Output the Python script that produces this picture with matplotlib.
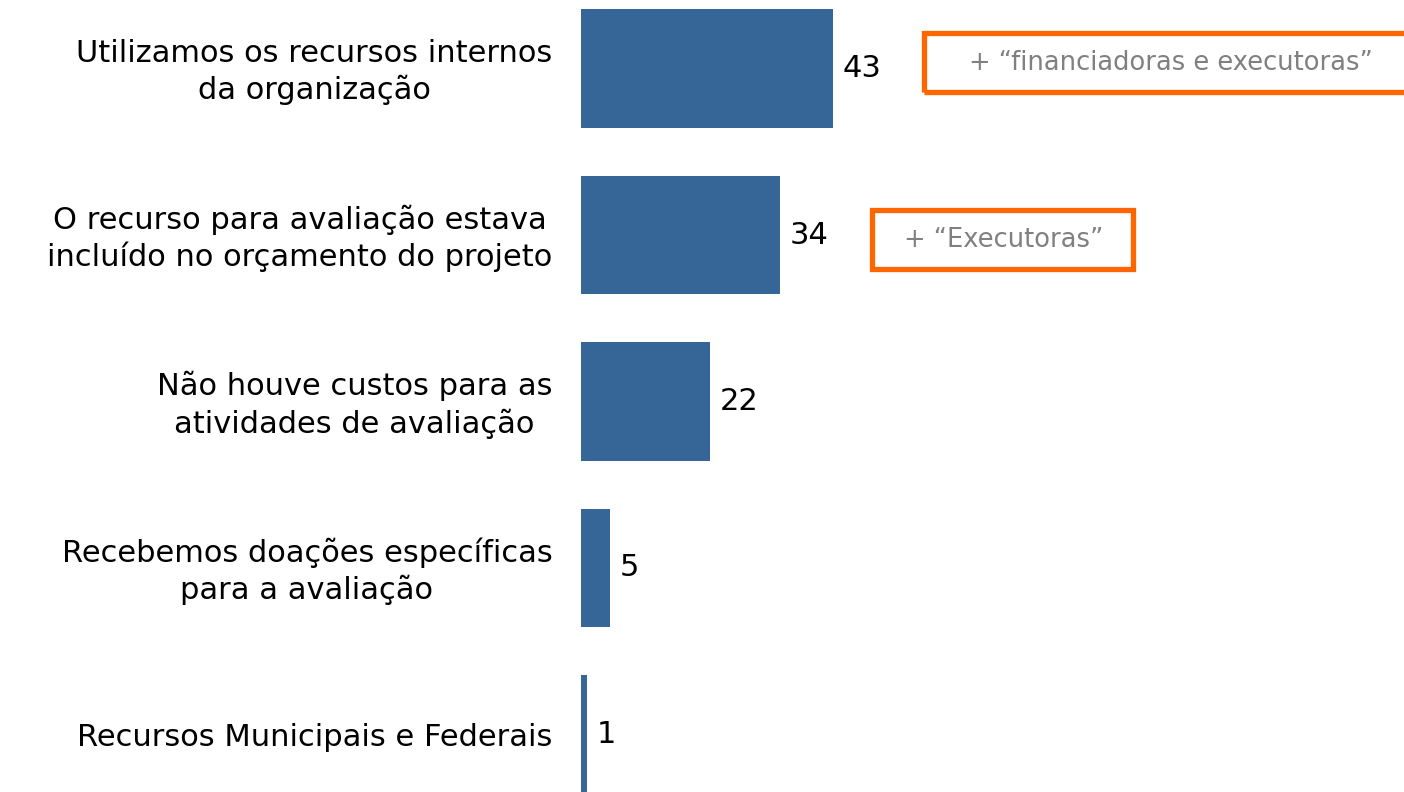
import matplotlib
matplotlib.use("Agg")
import matplotlib.pyplot as plt
from matplotlib.patches import Rectangle

# dados
categorias = ["Utilizamos os recursos internos\nda organização",
              "O recurso para avaliação estava\nincluído no orçamento do projeto",
              "Não houve custos para as\natividades de avaliação",
              "Recebemos doações específicas\npara a avaliação",
              "Recursos Municipais e Federais"]
valores = [43, 34, 22, 5, 1]
notas = ["+ \u201cfinanciadoras e executoras\u201d", "+ \u201cExecutoras\u201d"]

W, H = 1404, 792
fig = plt.figure(figsize=(W / 100, H / 100), dpi=100)
fig.patch.set_facecolor("white")

# axes: barra começa em x=581 px, 5.86 px por unidade
x0 = 581
ax = fig.add_axes([x0 / W, 0, 1 - x0 / W, 1])
ax.set_xlim(0, (W - x0) / 5.86)
passo = 166.5
ax.set_ylim((H - 68.5) / passo, -68.5 / passo)
ax.axis("off")

cor = "#356697"
y = list(range(len(valores)))
ax.barh(y, valores, height=0.71, color=cor)

for i, (c, v) in enumerate(zip(categorias, valores)):
    ax.text(-4.9, i + 0.02, c, ha="right", va="center", multialignment="center",
            fontsize=22, color="black", linespacing=1.3)
    ax.text(v + 1.6, i, str(v), ha="left", va="center", fontsize=22, color="black")

# caixas laranja (em pixels da figura)
def caixa(x1, y1, x2, y2):
    r = Rectangle((x1 / W, 1 - y2 / H), (x2 - x1) / W, (y2 - y1) / H,
                  transform=fig.transFigure, fill=False, edgecolor="#FF6600",
                  linewidth=3.8, joinstyle="miter", clip_on=False)
    fig.add_artist(r)

caixa(924, 33, 1420, 92)
fig.text(1171 / W, 1 - 63 / H, notas[0], ha="center", va="center",
         fontsize=18.5, color="#808080")
caixa(872, 210, 1133, 269)
fig.text(1004 / W, 1 - 240 / H, notas[1], ha="center", va="center",
         fontsize=18.5, color="#808080")

fig.savefig("out.png", dpi=100, facecolor="white")
